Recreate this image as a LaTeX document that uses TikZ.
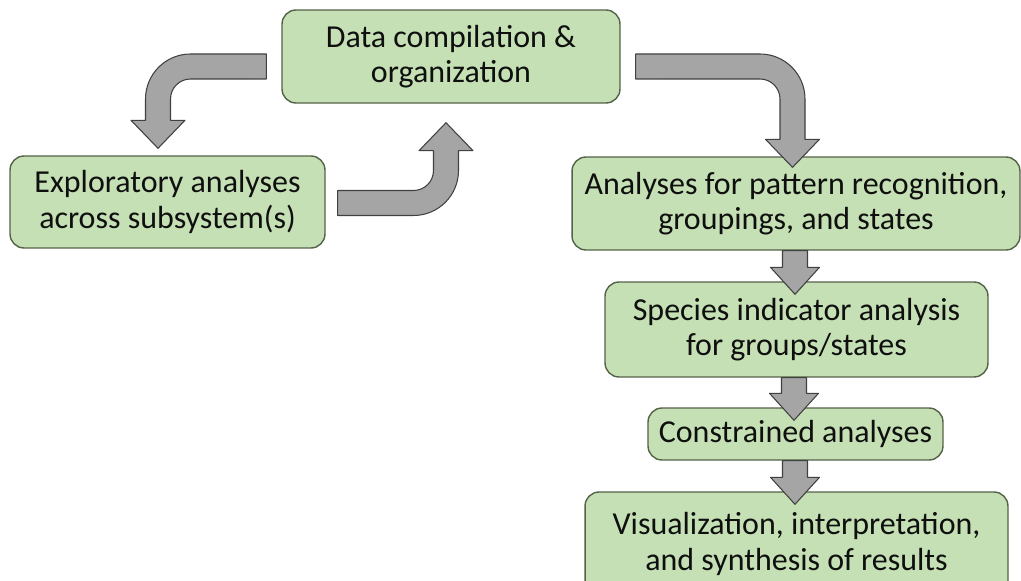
\documentclass[tikz,border=0pt]{standalone}
\usepackage{fontspec}
\setmainfont{Carlito}
\usepackage{xcolor}
\usepackage{tikz}
\usetikzlibrary{calc}
\definecolor{boxcolor}{RGB}{197,224,180}
\definecolor{boxline}{RGB}{84,98,72}
\definecolor{arrowcolor}{RGB}{165,165,165}
\definecolor{arrowline}{RGB}{64,64,64}
\definecolor{textcolor}{RGB}{15,15,15}

% straight block arrow from the bottom of one box into the next
\newcommand{\downblock}[2]{%
  \draw[blockarrow] ($(#1.south -| #2.north)+(-14,0)$) -- ($(#2.north)+(-14,-14)$) -- ($(#2.north)+(-26,-14)$) -- ($(#2.north)+(-1.5,13)$) -- ($(#2.north)+(23,-14)$) -- ($(#2.north)+(11,-14)$) -- ($(#1.south -| #2.north)+(11,0)$) -- cycle;}

\begin{document}
\begin{tikzpicture}[
    x=0.02cm, y=-0.02cm,
    box/.style={rectangle, draw=boxline, fill=boxcolor, line width=0.8pt, rounded corners=0.28cm, inner sep=0pt, align=center, text=textcolor, font=\fontsize{18.2}{20.3}\selectfont},
    blockarrow/.style={draw=arrowline, fill=arrowcolor, line width=0.6pt, line join=round}
]
\useasboundingbox (0,0) rectangle (1021,581);

% Boxes
\node[box, minimum width=6.76cm, minimum height=1.86cm] (data_comp) at (451,56.5) {Data compilation \&\\organization};
\node[box, minimum width=6.3cm, minimum height=1.84cm] (explor) at (167.5,202) {Exploratory analyses\\across subsystem(s)};
\node[box, minimum width=8.96cm, minimum height=1.86cm] (pattern) at (796,203.5) {Analyses for pattern recognition,\\groupings, and states};
\node[box, minimum width=7.66cm, minimum height=1.9cm] (indicator) at (796.5,329.5) {Species indicator analysis\\for groups/states};
\node[box, minimum width=5.9cm, minimum height=1.04cm] (constrained) at (795.5,434) {Constrained analyses};
\node[box, minimum width=8.46cm, minimum height=2.08cm] (visual) at (796.5,544) {Visualization, interpretation,\\and synthesis of results};

% Bent arrows - exploration loop
\coordinate (h2) at ($(data_comp.west)+(-15,10)$);
\coordinate (v2) at ($(explor.north)+(-9.5,-7)$);
\coordinate (k2) at ($(h2 -| v2)+(32.5,32.5)$);
\draw[blockarrow] ($(h2)+(0,-12.5)$) -- ($(k2)+(0,-45)$) arc[start angle=90, end angle=180, radius=0.9cm] -- ($(v2)+(-12.5,-28)$) -- ($(v2)+(-27,-28)$) -- (v2) -- ($(v2)+(27,-28)$) -- ($(v2)+(12.5,-28)$) -- ($(k2)+(-20,0)$) arc[start angle=180, end angle=90, radius=0.4cm] -- ($(h2)+(0,12.5)$) -- cycle;

\coordinate (h3) at ($(explor.east)+(12,1)$);
\coordinate (v3) at ($(data_comp.south)+(-5,19)$);
\coordinate (k3) at ($(h3 -| v3)+(-32.5,-32.5)$);
\draw[blockarrow] ($(h3)+(0,12.5)$) -- ($(k3)+(0,45)$) arc[start angle=270, end angle=360, radius=0.9cm] -- ($(v3)+(12.5,28)$) -- ($(v3)+(27,28)$) -- (v3) -- ($(v3)+(-27,28)$) -- ($(v3)+(-12.5,28)$) -- ($(k3)+(20,0)$) arc[start angle=0, end angle=-90, radius=0.4cm] -- ($(h3)+(0,-12.5)$) -- cycle;

% Bent arrow - main flow
\coordinate (h1) at ($(data_comp.east)+(15,10)$);
\coordinate (v1) at ($(pattern.north)+(-3.5,11)$);
\coordinate (k1) at ($(h1 -| v1)+(-32.5,32.5)$);
\draw[blockarrow] ($(h1)+(0,-12.5)$) -- ($(k1)+(0,-45)$) arc[start angle=90, end angle=0, radius=0.9cm] -- ($(v1)+(12.5,-28)$) -- ($(v1)+(27,-28)$) -- (v1) -- ($(v1)+(-27,-28)$) -- ($(v1)+(-12.5,-28)$) -- ($(k1)+(20,0)$) arc[start angle=0, end angle=90, radius=0.4cm] -- ($(h1)+(0,12.5)$) -- cycle;

% Straight arrows
\downblock{pattern}{indicator}
\downblock{indicator}{constrained}
\downblock{constrained}{visual}

\end{tikzpicture}
\end{document}
